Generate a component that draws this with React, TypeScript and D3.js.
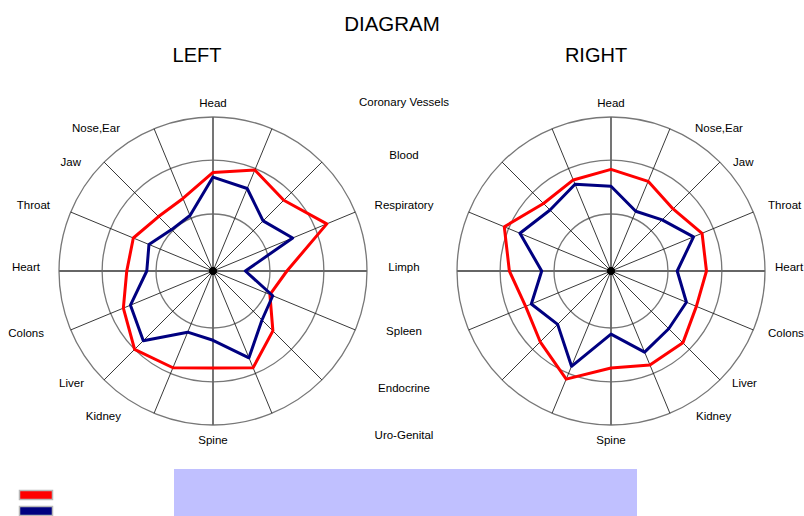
import React from "react";
import * as d3 from "d3";

// organs, clockwise from the top on the LEFT chart (the RIGHT chart is mirrored)
const categories = [
  "Head", "Coronary Vessels", "Blood", "Respiratory", "Limph", "Spleen", "Endocrine", "Uro-Genital",
  "Spine", "Kidney", "Liver", "Colons", "Heart", "Throat", "Jaw", "Nose,Ear",
];

const leftRed = [64, 71, 65, 80, 48, 40, 55, 68, 63, 68, 72, 63, 56, 56, 50, 51];
const leftBlue = [61, 58, 46, 56, 21, 42, 45, 61, 45, 43, 64, 58, 43, 45, 38, 39];
const rightRed = [66, 64, 62, 75, 66, 60, 65, 76, 63, 66, 66, 60, 62, 64, 57, 63];
const rightBlue = [55, 61, 56, 64, 45, 56, 49, 67, 41, 57, 53, 53, 43, 58, 47, 42];

const ringLevels = [37, 72, 100];

const FONT = "'Liberation Sans', Arial, sans-serif";
const RADIUS = 154;
const centers = { left: [213, 271], right: [611, 271] };

// label placement (offsets from chart centre, to baseline)
const outerLabels: { name: string; dxL: number; dxR: number; dy: number }[] = [
  { name: "Nose,Ear", dxL: -93, dxR: 84, dy: -139 },
  { name: "Jaw", dxL: -132, dxR: 122, dy: -105 },
  { name: "Throat", dxL: -163, dxR: 157, dy: -62 },
  { name: "Heart", dxL: -173, dxR: 164, dy: 0 },
  { name: "Colons", dxL: -169, dxR: 157, dy: 66 },
  { name: "Liver", dxL: -129, dxR: 121, dy: 116 },
  { name: "Kidney", dxL: -92, dxR: 85, dy: 149 },
];
const middleLabels: { name: string; dy: number }[] = [
  { name: "Coronary Vessels", dy: -165 },
  { name: "Blood", dy: -112 },
  { name: "Respiratory", dy: -62 },
  { name: "Limph", dy: 0 },
  { name: "Spleen", dy: 64 },
  { name: "Endocrine", dy: 121 },
  { name: "Uro-Genital", dy: 168 },
];

const rScale = d3.scaleLinear().domain([0, 100]).range([0, RADIUS]);

function Radar({ cx, cy, dir, red, blue }: { cx: number; cy: number; dir: number; red: number[]; blue: number[] }) {
  const angle = d3.scaleLinear().domain([0, categories.length]).range([0, dir * 2 * Math.PI]);
  const line = d3
    .lineRadial<number>()
    .angle((d, i) => angle(i))
    .radius((d) => rScale(d))
    .curve(d3.curveLinearClosed);

  return (
    <g transform={`translate(${cx},${cy})`}>
      {ringLevels.map((v) => (
        <circle key={v} r={rScale(v)} fill="none" stroke="#777" strokeWidth={1.3} />
      ))}
      {categories.map((c, i) => {
        const a = angle(i);
        const main = i % 4 === 0;
        return (
          <line
            key={c}
            x1={0}
            y1={0}
            x2={Math.sin(a) * rScale(100)}
            y2={-Math.cos(a) * rScale(100)}
            stroke={main ? "#666" : "#222"}
            strokeWidth={main ? 1.8 : 0.9}
          />
        );
      })}
      <path d={line(red) || ""} fill="none" stroke="#ff0000" strokeWidth={3} strokeLinejoin="round" />
      <path d={line(blue) || ""} fill="none" stroke="#000080" strokeWidth={3} strokeLinejoin="round" />
      <circle r={4} fill="#000" />
      <text x={0} y={-164} textAnchor="middle" fontSize={11.5}>Head</text>
      <text x={0} y={173} textAnchor="middle" fontSize={11.5}>Spine</text>
      {outerLabels.map((l) => (
        <text
          key={l.name}
          x={dir > 0 ? l.dxL : l.dxR}
          y={l.dy}
          textAnchor={dir > 0 ? "end" : "start"}
          fontSize={11.5}
        >
          {l.name}
        </text>
      ))}
    </g>
  );
}

export default function App() {
  const [lx, ly] = centers.left;
  const [rx, ry] = centers.right;
  const midX = 404;
  return (
    <svg
      width={804}
      height={516}
      style={{ position: "absolute", left: 0, top: 0, background: "#fff" }}
      fontFamily={FONT}
    >
      <text x={392} y={31} textAnchor="middle" fontSize={20.5}>DIAGRAM</text>
      <text x={lx - 16} y={62} textAnchor="middle" fontSize={20}>LEFT</text>
      <text x={rx - 15} y={62} textAnchor="middle" fontSize={20}>RIGHT</text>

      <Radar cx={lx} cy={ly} dir={1} red={leftRed} blue={leftBlue} />
      <Radar cx={rx} cy={ry} dir={-1} red={rightRed} blue={rightBlue} />

      {middleLabels.map((l) => (
        <text key={l.name} x={midX} y={ly + l.dy} textAnchor="middle" fontSize={11.5}>
          {l.name}
        </text>
      ))}

      <rect x={174} y={469} width={463} height={50} fill="#c0c0ff" />

      <rect x={19.5} y={490.5} width={33} height={9} fill="#ff0000" stroke="#b8b8b8" strokeWidth={1.5} />
      <rect x={19.5} y={506.5} width={33} height={9} fill="#000080" stroke="#b8b8b8" strokeWidth={1.5} />
    </svg>
  );
}
